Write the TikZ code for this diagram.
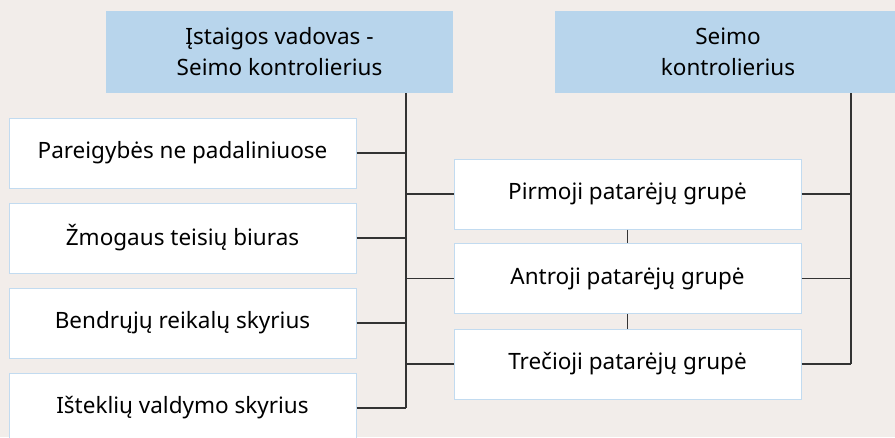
\documentclass[tikz,border=0pt]{standalone}
\usepackage{fontspec}
\usepackage{tikz}
\usepackage{xcolor}
\usetikzlibrary{positioning}
\usetikzlibrary{calc}
\setmainfont{Noto Sans}
\definecolor{bgpink}{HTML}{F2EDEA}
\definecolor{headblue}{HTML}{B8D5EC}
\definecolor{edgeblue}{HTML}{C2DBF0}
\definecolor{linkgray}{HTML}{333333}
\tikzset{
  headbox/.style={fill=headblue, draw=none, minimum width=347pt, minimum height=82pt, align=center, font=\fontsize{22.5}{31}\selectfont, inner sep=0pt},
  unitbox/.style={fill=white, draw=edgeblue, line width=1pt, minimum width=347pt, minimum height=70pt, font=\fontsize{22.5}{27}\selectfont, inner sep=0pt},
  link/.style={draw=linkgray, line width=1.4pt}
}

\begin{document}
\begin{tikzpicture}[x=1pt,y=-1pt]
\fill[bgpink] (0,0) rectangle (895,437);
\useasboundingbox (0,0) rectangle (895,437);

\begin{scope}
\clip (0,0) rectangle (895,437);
\node[headbox] (vadovas) at (279.5,52) {Įstaigos vadovas -\\Seimo kontrolierius};
\node[headbox] (kontrol) at (728,52) {Seimo\\kontrolierius};

\node[unitbox] (pareig) at (182.5,153) {Pareigybės ne padaliniuose};
\node[unitbox] (teises) at (182.5,238) {Žmogaus teisių biuras};
\node[unitbox] (bendr) at (182.5,323) {Bendrųjų reikalų skyrius};
\node[unitbox] (istekl) at (182.5,408) {Išteklių valdymo skyrius};

\node[unitbox] (pirmoji) at (627.5,194) {Pirmoji patarėjų grupė};
\node[unitbox] (antroji) at (627.5,278.5) {Antroji patarėjų grupė};
\node[unitbox] (trecioji) at (627.5,364) {Trečioji patarėjų grupė};
\end{scope}

\coordinate (lx) at (406,0);
\coordinate (rx) at (851,0);

% left trunk
\draw[link] (vadovas.south-|lx) -- (istekl.east-|lx);
\foreach \u in {pareig,teises,bendr,istekl}
  \draw[link] (\u.east) -- (\u.east-|lx);
\foreach \g in {pirmoji,antroji,trecioji}
  \draw[link] (\g.west) -- (\g.west-|lx);

% right trunk
\draw[link] (kontrol.south-|rx) -- (trecioji.east-|rx);
\foreach \g in {pirmoji,antroji,trecioji}
  \draw[link] (\g.east) -- (\g.east-|rx);

\draw[link] (pirmoji.south) -- (antroji.north);
\draw[link] (antroji.south) -- (trecioji.north);

\end{tikzpicture}
\end{document}
